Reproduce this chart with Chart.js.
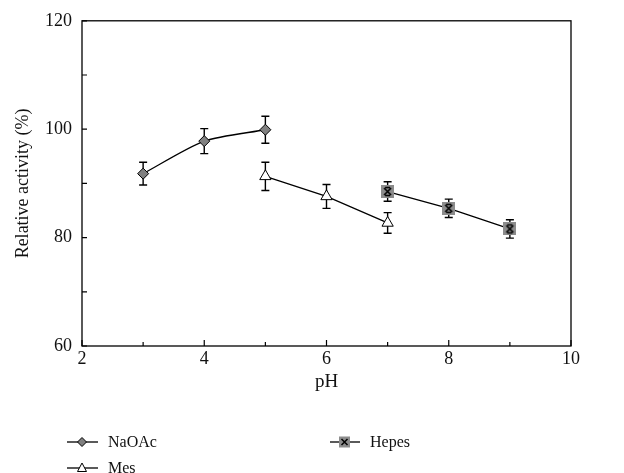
<!DOCTYPE html>
<html>
<head>
<meta charset="utf-8">
<script src="https://cdn.jsdelivr.net/npm/chart.js@4.4.1/dist/chart.umd.min.js"></script>
<style>
    body { margin: 0; background: #fff; }
    #wrap { position: relative; width: 624px; height: 473px; }
    #legend { position: absolute; left: 0; top: 0; width: 624px; height: 473px; pointer-events: none;
              font-family: "Liberation Serif", "DejaVu Serif", serif; font-size: 16px; color: #111; }
    .item { position: absolute; display: flex; align-items: center; }
    .item span { margin-left: 10px; }
</style>
</head>
<body>
<div id="wrap">
    <canvas id="myChart" width="624" height="473"></canvas>
    <div id="legend">
        <div class="item" style="left:67px; top:433px;">
            <svg width="31" height="16"><line x1="0" y1="8" x2="31" y2="8" stroke="#000" stroke-width="1.3"/><polygon points="15,3.5 19.5,8 15,12.5 10.5,8" fill="#808080" stroke="#000" stroke-width="1"/></svg>
            <span>NaOAc</span>
        </div>
        <div class="item" style="left:67px; top:459px;">
            <svg width="31" height="16"><line x1="0" y1="8" x2="31" y2="8" stroke="#000" stroke-width="1.3"/><polygon points="15,3 19.5,11.5 10.5,11.5" fill="#fff" stroke="#000" stroke-width="1"/></svg>
            <span>Mes</span>
        </div>
        <div class="item" style="left:330px; top:433px;">
            <svg width="30" height="16"><line x1="0" y1="8" x2="30" y2="8" stroke="#000" stroke-width="1.3"/><rect x="9" y="2.5" width="11" height="11" fill="#8c8c8c"/><path d="M11.5 5 L17.5 11 M17.5 5 L11.5 11" stroke="#000" stroke-width="1.5"/></svg>
            <span>Hepes</span>
        </div>
    </div>
</div>
<script>
// data
const phNaOAc = [3, 4, 5];
const actNaOAc = [91.8, 97.8, 99.9];
const errNaOAc = [2.1, 2.3, 2.5];

const phMes = [5, 6, 7];
const actMes = [91.3, 87.6, 82.7];
const errMes = [2.6, 2.2, 1.9];

const phHepes = [7, 8, 9];
const actHepes = [88.5, 85.4, 81.6];
const errHepes = [1.8, 1.7, 1.7];

const fontFam = '"Liberation Serif", "DejaVu Serif", serif';

function pts(xs, ys) {
    return xs.map((x, i) => ({ x: x, y: ys[i] }));
}

// hepes marker: grey square with a black cross
const hepesMark = document.createElement('canvas');
hepesMark.width = 13;
hepesMark.height = 13;
(function () {
    const c = hepesMark.getContext('2d');
    c.fillStyle = '#8c8c8c';
    c.fillRect(0, 0, 13, 13);
    c.strokeStyle = '#000';
    c.lineWidth = 1.6;
    c.beginPath();
    c.moveTo(3, 3); c.lineTo(10, 10);
    c.moveTo(10, 3); c.lineTo(3, 10);
    c.moveTo(4, 2.5); c.lineTo(9, 2.5);
    c.moveTo(4, 10.5); c.lineTo(9, 10.5);
    c.stroke();
})();

// error bars drawn through the scales
const errorBars = {
    id: 'errorBars',
    beforeDatasetsDraw(chart) {
        const ctx = chart.ctx;
        const xs = chart.scales.x, ys = chart.scales.y;
        ctx.save();
        ctx.strokeStyle = '#000';
        ctx.lineWidth = 1.4;
        chart.data.datasets.forEach(ds => {
            ds.data.forEach((p, i) => {
                const e = ds.errors[i];
                const x = xs.getPixelForValue(p.x);
                const y1 = ys.getPixelForValue(p.y + e);
                const y2 = ys.getPixelForValue(p.y - e);
                ctx.beginPath();
                ctx.moveTo(x, y1); ctx.lineTo(x, y2);
                ctx.moveTo(x - 4, y1); ctx.lineTo(x + 4, y1);
                ctx.moveTo(x - 4, y2); ctx.lineTo(x + 4, y2);
                ctx.stroke();
            });
        });
        ctx.restore();
    }
};

// frame + inward ticks
const frame = {
    id: 'frame',
    afterDraw(chart) {
        const ctx = chart.ctx;
        const a = chart.chartArea;
        ctx.save();
        ctx.strokeStyle = '#000';
        ctx.lineWidth = 1.3;
        ctx.strokeRect(a.left, a.top, a.right - a.left, a.bottom - a.top);
        const xs = chart.scales.x, ys = chart.scales.y;
        ctx.lineWidth = 1.2;
        ctx.beginPath();
        xs.ticks.forEach(t => {
            const x = xs.getPixelForValue(t.value);
            const len = t.value % 2 === 0 ? 6 : 4;
            ctx.moveTo(x, a.bottom); ctx.lineTo(x, a.bottom - len);
        });
        ys.ticks.forEach(t => {
            const y = ys.getPixelForValue(t.value);
            ctx.moveTo(a.left, y); ctx.lineTo(a.left + 5, y);
        });
        ctx.stroke();
        ctx.restore();
    }
};

const data = {
    datasets: [
        {
            label: 'NaOAc',
            data: pts(phNaOAc, actNaOAc),
            errors: errNaOAc,
            borderColor: '#000',
            borderWidth: 1.3,
            tension: 0.25,
            pointStyle: 'rectRot',
            pointRadius: 5.5,
            pointBackgroundColor: '#808080',
            pointBorderColor: '#000',
            pointBorderWidth: 1
        },
        {
            label: 'Mes',
            data: pts(phMes, actMes),
            errors: errMes,
            borderColor: '#000',
            borderWidth: 1.3,
            pointStyle: 'triangle',
            pointRadius: 6.5,
            pointBackgroundColor: '#fff',
            pointBorderColor: '#000',
            pointBorderWidth: 1
        },
        {
            label: 'Hepes',
            data: pts(phHepes, actHepes),
            errors: errHepes,
            borderColor: '#000',
            borderWidth: 1.3,
            pointStyle: hepesMark
        }
    ]
};

const config = {
    type: 'line',
    data,
    options: {
        responsive: false,
        animation: false,
        layout: { padding: { top: 18, right: 53, bottom: 80, left: 0 } },
        plugins: { legend: { display: false }, tooltip: { enabled: false } },
        scales: {
            x: {
                type: 'linear',
                min: 2,
                max: 10,
                grid: { display: false, drawTicks: false },
                border: { display: false },
                ticks: {
                    stepSize: 1,
                    padding: 2,
                    color: '#111',
                    font: { family: fontFam, size: 18 },
                    callback: v => (v % 2 === 0 ? v : '')
                },
                title: { display: true, text: 'pH', color: '#111', font: { family: fontFam, size: 19 }, padding: { top: 4, bottom: 0 } },
                afterFit: s => { s.height = 47; }
            },
            y: {
                min: 60,
                max: 120,
                grid: { display: false, drawTicks: false },
                border: { display: false },
                ticks: {
                    stepSize: 10,
                    padding: 10,
                    color: '#111',
                    font: { family: fontFam, size: 18 },
                    callback: v => (v % 20 === 0 ? v : '')
                },
                title: { display: true, text: 'Relative activity (%)', color: '#111', font: { family: fontFam, size: 18 }, padding: { top: 12, bottom: 0 } },
                afterFit: s => { s.width = 82; }
            }
        }
    },
    plugins: [errorBars, frame]
};

const myChart = new Chart(document.getElementById('myChart'), config);
</script>
</body>
</html>
